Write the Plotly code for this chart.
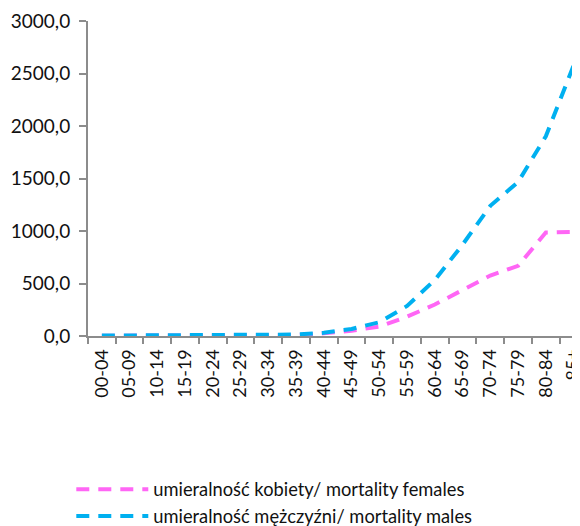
import plotly.graph_objects as go

categories = ["00-04", "05-09", "10-14", "15-19", "20-24", "25-29", "30-34", "35-39",
              "40-44", "45-49", "50-54", "55-59", "60-64", "65-69", "70-74", "75-79",
              "80-84", "85+"]
females = [3, 3, 3, 2, 3, 3, 4, 8, 25, 51, 89, 184, 300, 439, 576, 668, 985, 990]
males = [4, 5, 3, 4, 5, 5, 7, 14, 31, 67, 131, 286, 534, 870, 1240, 1466, 1902, 2575]
y_ticks = [0, 500, 1000, 1500, 2000, 2500, 3000]
y_tick_labels = ["0,0", "500,0", "1000,0", "1500,0", "2000,0", "2500,0", "3000,0"]

FONT = "Lato, Open Sans, sans-serif"
AXIS = "#8c8c8c"

fig = go.Figure()
fig.add_trace(go.Scatter(
    x=categories, y=females, mode="lines",
    name="umieralność kobiety/ mortality females",
    line=dict(color="#FF66F5", width=4, dash="13px,9px"),
))
fig.add_trace(go.Scatter(
    x=categories, y=males, mode="lines",
    name="umieralność mężczyźni/ mortality males",
    line=dict(color="#00B0F0", width=4, dash="13px,9px"),
))

fig.update_layout(
    width=580, height=526,
    margin=dict(l=80, r=0, t=13, b=198, autoexpand=False),
    paper_bgcolor="white", plot_bgcolor="white",
    font=dict(family=FONT, size=18, color="#111111"),
    showlegend=True,
    legend=dict(
        x=-0.0334, y=-0.428, xanchor="left", yanchor="top",
        orientation="v", font=dict(size=18.3, family=FONT),
        itemwidth=72, tracegroupgap=0, bgcolor="rgba(0,0,0,0)",
    ),
    xaxis=dict(
        type="category", range=[-0.5, 17.52], automargin=False,
        showline=True, linecolor=AXIS, linewidth=2,
        ticks="outside", tickson="boundaries", ticklen=6, tickcolor=AXIS, tickwidth=2,
        tickangle=-90, showgrid=False, zeroline=False, ticklabelstandoff=4,
        tickfont=dict(size=18, family=FONT),
    ),
    yaxis=dict(
        range=[0, 3000], tickvals=y_ticks, ticktext=y_tick_labels, automargin=False,
        showline=True, linecolor=AXIS, linewidth=2,
        ticks="outside", ticklen=7, tickcolor=AXIS, tickwidth=2,
        showgrid=False, zeroline=False, ticklabelstandoff=5,
        tickfont=dict(size=19, family=FONT),
    ),
)

fig.write_html("out.html")
